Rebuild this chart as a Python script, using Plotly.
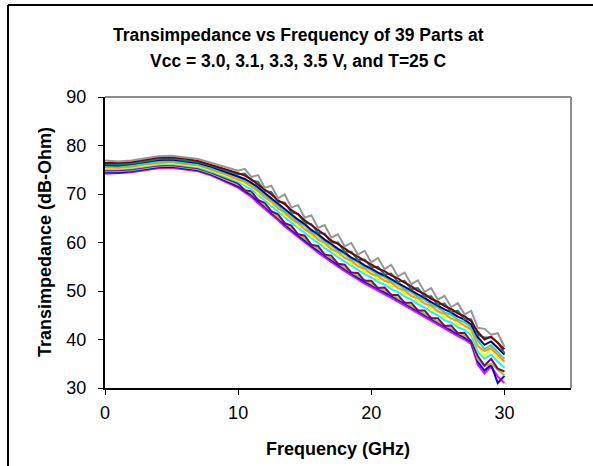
import plotly.graph_objects as go

# Frequency points (GHz)
freq = [0, 1, 2, 3, 4, 5, 6, 7, 8, 9, 10,
        10.5, 11, 11.5, 12, 12.5, 13, 13.5, 14, 14.5, 15,
        15.5, 16, 16.5, 17, 17.5, 18, 18.5, 19, 19.5, 20,
        20.5, 21, 21.5, 22, 22.5, 23, 23.5, 24, 24.5, 25,
        25.5, 26, 26.5, 27, 27.5, 28, 28.5, 29, 29.5, 30]

# Transimpedance (dB-Ohm) for a set of representative parts / Vcc settings
part_01 = [76.9, 76.7, 76.9, 77.3, 77.8, 77.9, 77.5, 77.2, 76.4, 75.6, 74.8,
           75.2, 73.5, 73.9, 71.3, 71.7, 69.1, 69.9, 67.2, 67.7, 65.1,
           65.6, 63.0, 63.6, 61.0, 61.7, 59.2, 59.9, 57.5, 58.3, 55.9,
           56.8, 54.5, 55.4, 53.0, 53.8, 51.4, 52.2, 49.8, 50.6, 48.2,
           49.0, 46.7, 47.5, 45.2, 45.9, 42.4, 42.2, 41.0, 41.3, 38.5]
part_02 = [76.4, 76.4, 76.6, 77.1, 77.5, 77.6, 77.3, 76.8, 76.0, 75.2, 74.3,
           73.8, 73.0, 71.9, 70.9, 69.9, 68.7, 67.9, 66.7, 65.8, 64.6,
           63.6, 62.5, 61.6, 60.4, 59.7, 58.8, 57.8, 57.1, 56.2, 55.5,
           54.6, 54.1, 53.2, 52.6, 51.7, 51.0, 50.0, 49.4, 48.4, 47.8,
           46.9, 46.3, 45.4, 44.8, 43.8, 41.6, 40.0, 40.6, 39.2, 38.0]
part_03 = [76.2, 76.1, 76.3, 76.8, 77.2, 77.3, 77.0, 76.6, 75.8, 74.9, 74.0,
           74.2, 72.8, 72.5, 70.6, 70.4, 68.4, 68.2, 66.2, 65.9, 64.1,
           63.8, 62.0, 61.8, 60.0, 60.0, 58.1, 58.1, 56.4, 56.5, 54.9,
           55.0, 53.4, 53.6, 51.9, 52.1, 50.4, 50.6, 48.8, 48.9, 47.2,
           47.4, 45.7, 45.9, 44.2, 44.2, 41.0, 40.4, 40.4, 39.4, 37.2]
part_04 = [76.0, 75.9, 76.2, 76.6, 77.0, 77.1, 76.8, 76.4, 75.6, 74.6, 73.7,
           73.1, 72.3, 71.4, 70.2, 69.1, 68.1, 66.9, 65.9, 64.7, 63.8,
           62.6, 61.7, 60.6, 59.7, 58.7, 57.9, 56.9, 56.2, 55.3, 54.6,
           53.8, 53.2, 52.4, 51.7, 50.8, 50.1, 49.3, 48.6, 47.7, 47.0,
           46.2, 45.6, 44.7, 44.1, 43.1, 40.5, 38.9, 39.6, 38.3, 36.9]
part_05 = [75.7, 75.7, 75.9, 76.3, 76.7, 76.8, 76.5, 76.1, 75.3, 74.4, 73.5,
           72.7, 72.1, 70.9, 69.9, 68.8, 67.7, 66.4, 65.5, 64.2, 63.5,
           62.2, 61.4, 60.2, 59.4, 58.3, 57.6, 56.5, 55.9, 54.9, 54.3,
           53.4, 52.9, 52.0, 51.4, 50.4, 49.8, 48.8, 48.2, 47.2, 46.6,
           45.6, 45.1, 44.1, 43.6, 42.5, 39.8, 38.0, 38.8, 37.5, 36.0]
part_06 = [75.5, 75.4, 75.6, 76.1, 76.4, 76.6, 76.2, 75.9, 75.0, 74.1, 73.0,
           72.5, 71.5, 70.6, 69.3, 68.5, 67.0, 66.2, 64.8, 64.0, 62.7,
           61.9, 60.6, 59.9, 58.6, 58.0, 56.8, 56.2, 55.1, 54.6, 53.5,
           53.1, 52.1, 51.7, 50.6, 50.1, 49.0, 48.5, 47.4, 46.9, 45.8,
           45.3, 44.3, 43.8, 42.8, 42.1, 38.6, 37.6, 38.2, 36.8, 35.4]
part_07 = [75.3, 75.3, 75.5, 75.9, 76.3, 76.4, 76.1, 75.7, 74.9, 73.8, 72.8,
           72.0, 72.0, 70.0, 69.8, 67.8, 67.5, 65.5, 65.3, 63.3, 63.2,
           61.2, 61.1, 59.2, 59.1, 57.3, 57.3, 55.5, 55.5, 53.9, 53.9,
           52.3, 52.5, 50.9, 51.1, 49.4, 49.4, 47.8, 47.8, 46.1, 46.2,
           44.5, 44.7, 43.0, 43.2, 41.4, 38.9, 36.6, 38.1, 36.2, 35.5]
part_08 = [75.1, 75.1, 75.3, 75.7, 76.1, 76.2, 75.9, 75.5, 74.6, 73.6, 72.5,
           71.7, 70.9, 69.8, 68.6, 67.5, 66.3, 65.2, 64.1, 63.0, 62.0,
           60.9, 59.9, 58.9, 57.9, 57.0, 56.1, 55.2, 54.4, 53.5, 52.8,
           51.9, 51.3, 50.4, 49.8, 48.9, 48.2, 47.3, 46.6, 45.7, 45.0,
           44.0, 43.5, 42.5, 42.0, 40.9, 37.5, 36.0, 36.9, 35.4, 34.2]
part_09 = [74.9, 74.9, 75.1, 75.5, 75.9, 76.0, 75.7, 75.3, 74.4, 73.3, 72.2,
           70.7, 70.6, 68.7, 68.2, 66.4, 65.8, 64.0, 63.5, 61.7, 61.4,
           59.5, 59.3, 57.5, 57.3, 55.6, 55.4, 53.8, 53.7, 52.1, 52.1,
           50.6, 50.7, 49.2, 49.2, 47.6, 47.6, 46.0, 46.0, 44.4, 44.4,
           42.8, 42.9, 41.3, 41.4, 39.6, 36.6, 34.6, 36.0, 34.0, 33.4]
part_10 = [74.7, 74.7, 74.9, 75.3, 75.7, 75.8, 75.5, 75.1, 74.2, 73.1, 71.9,
           71.0, 70.1, 68.9, 67.6, 66.5, 65.2, 64.1, 62.9, 61.8, 60.8,
           59.6, 58.7, 57.6, 56.7, 55.7, 54.8, 53.9, 53.1, 52.2, 51.5,
           50.7, 50.1, 49.3, 48.6, 47.7, 47.0, 46.1, 45.4, 44.5, 43.8,
           42.9, 42.3, 41.4, 40.8, 39.8, 35.9, 34.5, 35.0, 33.8, 32.6]
part_11 = [74.5, 74.4, 74.7, 75.1, 75.5, 75.6, 75.3, 74.9, 74.0, 72.8, 71.6,
           70.6, 69.8, 68.5, 67.4, 66.1, 65.0, 63.7, 62.6, 61.4, 60.4,
           59.3, 58.3, 57.3, 56.3, 55.4, 54.5, 53.6, 52.8, 51.9, 51.2,
           50.4, 49.7, 49.0, 48.2, 47.4, 46.6, 45.8, 45.0, 44.2, 43.4,
           42.6, 41.9, 41.1, 40.4, 39.5, 35.4, 33.6, 34.8, 31.0, 32.5]
part_12 = [74.2, 74.3, 74.5, 74.9, 75.3, 75.4, 75.1, 74.7, 73.8, 72.6, 71.3,
           70.3, 69.4, 68.1, 67.0, 65.7, 64.6, 63.3, 62.2, 61.0, 60.0,
           58.9, 57.9, 56.9, 55.9, 55.0, 54.1, 53.2, 52.4, 51.5, 50.8,
           50.0, 49.3, 48.6, 47.8, 47.0, 46.2, 45.4, 44.6, 43.8, 43.0,
           42.2, 41.5, 40.7, 40.0, 39.1, 34.8, 33.0, 34.4, 32.4, 31.0]

parts = [part_12, part_11, part_10, part_09, part_08, part_07,
         part_06, part_05, part_04, part_03, part_02, part_01]
colors = ["#FF00FF", "#0000FF", "#99CC00", "#800080", "#00FFFF", "#FFFF00",
          "#FF9900", "#33CCCC", "#000080", "#008080", "#800000", "#969696"]

x_ticks = [0, 10, 20, 30]
y_ticks = [30, 40, 50, 60, 70, 80, 90]

title_1 = "Transimpedance vs Frequency of 39 Parts at"
title_2 = "Vcc = 3.0, 3.1, 3.3, 3.5 V, and T=25 C"
x_title = "Frequency (GHz)"
y_title = "Transimpedance (dB-Ohm)"

FONT = "Liberation Sans, Arial, sans-serif"

fig = go.Figure()
for ys, c in zip(parts, colors):
    fig.add_trace(go.Scatter(x=freq, y=ys, mode="lines",
                             line=dict(color=c, width=2),
                             showlegend=False, hoverinfo="skip"))

axis_common = dict(showline=True, linecolor="black", linewidth=2,
                   ticks="outside", ticklen=5, tickwidth=1, tickcolor="black",
                   showgrid=False, zeroline=False,
                   tickfont=dict(family=FONT, size=18, color="black"))

fig.update_xaxes(range=[0, 35], tickvals=x_ticks, ticklabelstandoff=2, **axis_common)
fig.update_yaxes(range=[30, 90], tickvals=y_ticks, ticklabelstandoff=8, **axis_common)

L, R, T, B = 105, 22, 97, 78
W, H = 593, 466
pw, ph = W - L - R, H - T - B

def px(x):
    return (x - L) / pw

def py(y):
    return (H - B - y) / ph

shapes = [
    # plot area gray top/right border
    dict(type="line", xref="paper", yref="paper", x0=0, y0=1, x1=1, y1=1,
         line=dict(color="#8c8c8c", width=2)),
    dict(type="line", xref="paper", yref="paper", x0=1, y0=0, x1=1, y1=1,
         line=dict(color="#8c8c8c", width=2)),
    # outer chart border (left and top edges visible)
    dict(type="line", xref="paper", yref="paper", x0=px(8), y0=py(5),
         x1=px(8), y1=py(470), line=dict(color="black", width=2)),
    dict(type="line", xref="paper", yref="paper", x0=px(8), y0=py(5),
         x1=px(600), y1=py(5), line=dict(color="black", width=2)),
]

annotations = [
    dict(text="<b>%s</b>" % title_1, xref="paper", yref="paper",
         x=px(298), y=py(35), xanchor="center", yanchor="middle",
         showarrow=False, font=dict(family=FONT, size=17.5, color="black")),
    dict(text="<b>%s</b>" % title_2, xref="paper", yref="paper",
         x=px(298), y=py(61), xanchor="center", yanchor="middle",
         showarrow=False, font=dict(family=FONT, size=17.5, color="black")),
    dict(text="<b>%s</b>" % x_title, xref="paper", yref="paper",
         x=px(338), y=py(449), xanchor="center", yanchor="middle",
         showarrow=False, font=dict(family=FONT, size=18, color="black")),
    dict(text="<b>%s</b>" % y_title, xref="paper", yref="paper",
         x=px(45), y=py(242), xanchor="center", yanchor="middle",
         textangle=-90, showarrow=False,
         font=dict(family=FONT, size=18, color="black")),
]

fig.update_layout(width=W, height=H,
                  margin=dict(l=L, r=R, t=T, b=B, pad=0),
                  paper_bgcolor="white", plot_bgcolor="white",
                  shapes=shapes, annotations=annotations,
                  showlegend=False)

fig.write_html("out.html")
